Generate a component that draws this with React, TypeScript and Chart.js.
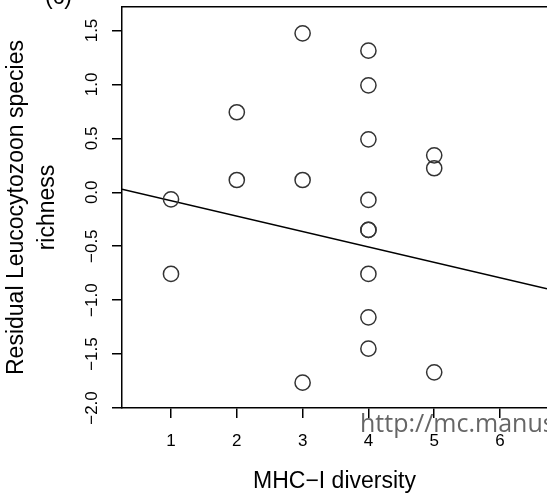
import React, { useEffect, useRef } from "react";
import { Chart, registerables } from "chart.js";

Chart.register(...registerables);

// ---- data ----
const diversity = [1, 1, 2, 2, 3, 3, 3, 4, 4, 4, 4, 4, 4, 4, 4, 4, 5, 5, 5];
const residualRichness = [
  -0.065, -0.757,
  0.742, 0.114,
  1.474, 0.114, -1.765,
  1.313, 0.992, 0.491, -0.071, -0.349, -0.349, -0.757, -1.159, -1.45,
  0.343, 0.223, -1.669,
];
const lineIntercept = 0.066;
const lineSlope = -0.143;
const xTickValues = [1, 2, 3, 4, 5, 6];
const yTickValues = [-2, -1.5, -1, -0.5, 0, 0.5, 1, 1.5];
const xRange = [0.2553, 6.714];
const yRange = [-2.0, 1.718];
const xTitle = "MHC\u2212I diversity";
const yTitle = ["Residual Leucocytozoon species", "richness"];
const panelLabel = "(c)";
const watermark = "http://mc.manus";

const FONT = '"Liberation Sans", Arial, Helvetica, sans-serif';

export default function App() {
  const ref = useRef<HTMLCanvasElement | null>(null);

  useEffect(() => {
    if (!ref.current) return;
    const points = diversity.map((x, i) => ({ x, y: residualRichness[i] }));
    const fitLine = xRange.map((x) => ({ x, y: lineIntercept + lineSlope * x }));

    const textPlugin = {
      id: "texts",
      beforeDraw(chart: any) {
        const ctx = chart.ctx;
        ctx.save();
        ctx.font = '25px "Open Sans", sans-serif';
        ctx.fillStyle = "#666666";
        ctx.textBaseline = "alphabetic";
        ctx.textAlign = "left";
        ctx.fillText(watermark, 360, 432);
        ctx.restore();
      },
      afterDraw(chart: any) {
        const ctx = chart.ctx;
        ctx.save();
        ctx.font = "23px " + FONT;
        ctx.fillStyle = "#000";
        ctx.textBaseline = "alphabetic";
        ctx.textAlign = "left";
        ctx.fillText(panelLabel, 45, 4);
        ctx.restore();
      },
    };

    const zeroPad = (s: any) => {
      s.paddingTop = 0;
      s.paddingBottom = 0;
      s.paddingLeft = 0;
      s.paddingRight = 0;
    };

    const chart = new Chart(ref.current, {
      type: "scatter",
      data: {
        datasets: [
          {
            data: points,
            pointRadius: 7.6,
            pointHoverRadius: 7.6,
            pointBorderWidth: 1.5,
            pointBorderColor: "#333333",
            pointBackgroundColor: "rgba(0,0,0,0)",
            showLine: false,
          },
          {
            data: fitLine,
            showLine: true,
            borderColor: "#000",
            borderWidth: 1.5,
            pointRadius: 0,
            fill: false,
          },
        ],
      },
      plugins: [textPlugin],
      options: {
        animation: false,
        responsive: false,
        devicePixelRatio: 1,
        layout: { autoPadding: false, padding: { left: 0, right: 0, top: 7, bottom: 0 } },
        plugins: {
          legend: { display: false },
          tooltip: { enabled: false },
          title: { display: false },
        },
        scales: {
          x: {
            type: "linear",
            position: "bottom",
            min: xRange[0],
            max: xRange[1],
            afterBuildTicks: (s: any) => {
              s.ticks = xTickValues.map((v) => ({ value: v }));
            },
            afterFit: (s: any) => {
              s.height = 87;
              zeroPad(s);
            },
            grid: {
              display: true,
              drawOnChartArea: false,
              drawTicks: true,
              tickLength: 10,
              color: "#000",
              lineWidth: 1.5,
            },
            border: { display: true, color: "#000", width: 1.5 },
            ticks: {
              color: "#000",
              font: { family: FONT, size: 17 },
              padding: 13,
              maxRotation: 0,
              minRotation: 0,
              callback: (v: any) => String(v),
            },
            title: {
              display: true,
              text: xTitle,
              color: "#000",
              font: { family: FONT, size: 23, lineHeight: 1.2 },
              padding: { top: 0, bottom: 0 },
            },
          },
          xTop: {
            type: "linear",
            position: "top",
            min: xRange[0],
            max: xRange[1],
            afterFit: (s: any) => {
              s.height = 0;
              zeroPad(s);
            },
            grid: { display: false, drawTicks: false },
            border: { display: true, color: "#000", width: 1.5 },
            ticks: { display: false },
          },
          y: {
            type: "linear",
            position: "left",
            min: yRange[0],
            max: yRange[1],
            afterBuildTicks: (s: any) => {
              s.ticks = yTickValues.map((v) => ({ value: v }));
            },
            afterFit: (s: any) => {
              s.width = 122;
              zeroPad(s);
            },
            grid: {
              display: true,
              drawOnChartArea: false,
              drawTicks: true,
              tickLength: 10,
              color: "#000",
              lineWidth: 1.5,
            },
            border: { display: true, color: "#000", width: 1.5 },
            ticks: {
              color: "#000",
              font: { family: FONT, size: 17 },
              padding: 3,
              minRotation: 90,
              maxRotation: 90,
              crossAlign: "center",
              callback: (v: any) => Number(v).toFixed(1).replace("-", "\u2212"),
            },
            title: {
              display: true,
              text: yTitle,
              color: "#000",
              font: { family: FONT, size: 23, lineHeight: 1.35 },
              padding: { top: 1.5, bottom: 0 },
            },
          },
        },
      },
    } as any);

    return () => chart.destroy();
  }, []);

  return (
    <div style={{ position: "absolute", left: 0, top: 0, width: 547, height: 495, overflow: "hidden", background: "#fff" }}>
      <canvas ref={ref} width={547} height={495} style={{ width: 547, height: 495, display: "block" }} />
    </div>
  );
}
